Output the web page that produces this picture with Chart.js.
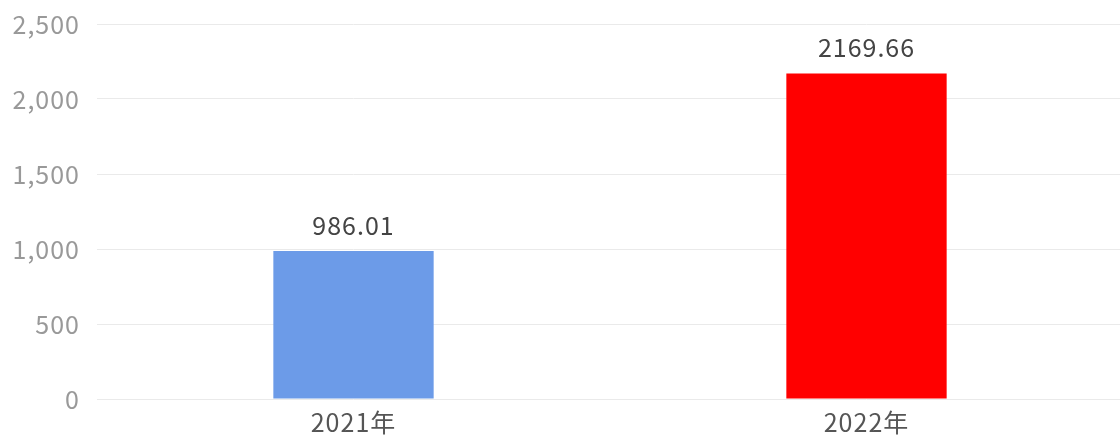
<!DOCTYPE html>
<html>
<head>
<meta charset="utf-8">
<script src="https://cdn.jsdelivr.net/npm/chart.js@4"></script>
<style>
  html, body { margin: 0; padding: 0; background: #fff; overflow: hidden; }
  #wrap { width: 1123px; height: 443px; }
</style>
</head>
<body>
<div id="wrap"><canvas id="chart"></canvas></div>
<script>
// datos del gráfico
const categorias = ['2021年', '2022年'];
const valores = [986.01, 2169.66];
const colores = ['#6c9be8', '#ff0000'];
const ticksY = [0, 500, 1000, 1500, 2000, 2500];

const fuente = '"Noto Sans CJK SC", "Noto Sans", sans-serif';

// espaciado de letras un poco más ancho, como en la imagen original
const espaciado = {
  id: 'espaciado',
  beforeDraw(chart) { chart.ctx.letterSpacing = '1px'; }
};

// etiquetas de valor encima de cada barra
const etiquetas = {
  id: 'etiquetas',
  afterDatasetsDraw(chart) {
    const ctx = chart.ctx;
    const meta = chart.getDatasetMeta(0);
    ctx.save();
    ctx.font = '25px ' + fuente;
    ctx.fillStyle = '#444';
    ctx.textAlign = 'center';
    ctx.textBaseline = 'middle';
    meta.data.forEach((bar, i) => {
      ctx.fillText(valores[i].toFixed(2), bar.x, bar.y - 26);
    });
    ctx.restore();
  }
};

const ctx = document.getElementById('chart').getContext('2d');
new Chart(ctx, {
  type: 'bar',
  data: {
    labels: categorias,
    datasets: [{
      data: valores,
      backgroundColor: colores,
      borderWidth: 0,
      barPercentage: 0.625,
      categoryPercentage: 0.5
    }]
  },
  options: {
    responsive: true,
    maintainAspectRatio: false,
    animation: false,
    layout: { padding: { top: 24, right: 0, left: 0, bottom: 0 } },
    plugins: {
      legend: { display: false },
      tooltip: { enabled: false }
    },
    scales: {
      x: {
        grid: { display: false },
        border: { display: false },
        ticks: {
          color: '#555',
          font: { family: fuente, size: 25 },
          padding: 0
        },
        afterFit(scale) { scale.height = 44; }
      },
      y: {
        min: 0,
        max: 2500,
        afterBuildTicks(scale) {
          scale.ticks = ticksY.map(v => ({ value: v }));
        },
        grid: { color: '#eaeaea', drawTicks: false, lineWidth: 1 },
        border: { display: false },
        ticks: {
          color: '#999',
          font: { family: fuente, size: 25 },
          padding: 17,
          callback: v => v.toLocaleString('en-US')
        },
        afterFit(scale) {
          scale.width = 97;
          scale.paddingTop = 0;
          scale.paddingBottom = 0;
        }
      }
    }
  },
  plugins: [espaciado, etiquetas]
});
</script>
</body>
</html>
